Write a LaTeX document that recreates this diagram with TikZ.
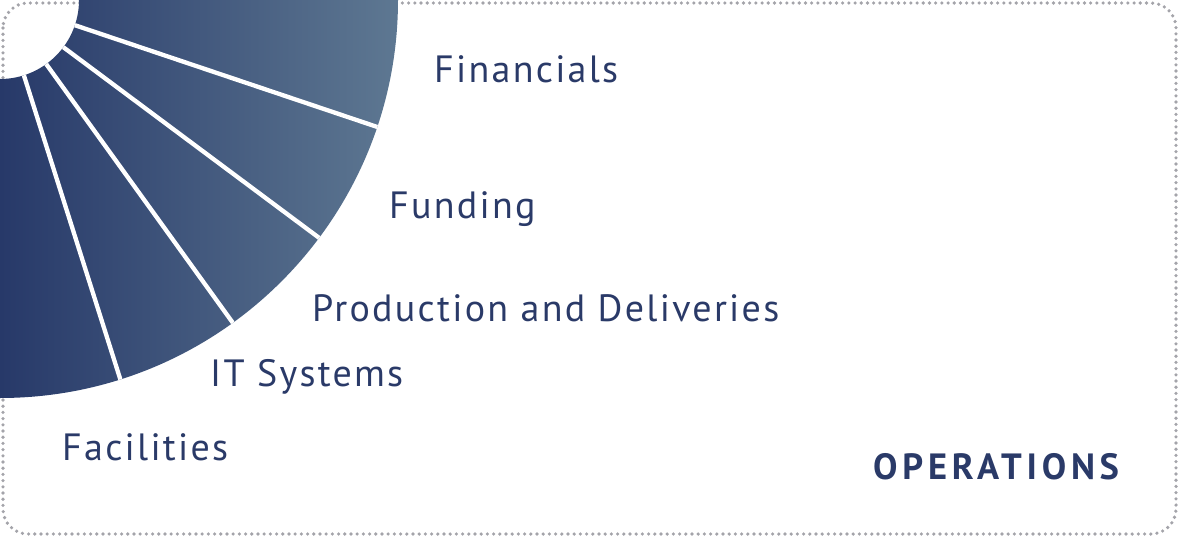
\documentclass[tikz,border=0pt]{standalone}
\usepackage{fontspec}
\setmainfont[LetterSpace=6]{PT Sans}
\newfontfamily\opsfont[LetterSpace=13]{PT Sans}
\definecolor{navy}{HTML}{2A3A68}
\definecolor{fandark}{HTML}{273969}
\definecolor{fanlight}{HTML}{5E7892}
\definecolor{dotgray}{HTML}{A4A4AA}
\tikzset{
  lbl/.style={anchor=base west, inner sep=0pt, text=navy, font=\fontsize{38}{40}\selectfont},
  oplbl/.style={anchor=base west, inner sep=0pt, text=navy, font=\opsfont\fontsize{36.5}{40}\selectfont\bfseries},
  sep/.style={white, line width=4.3pt},
  frame/.style={dotgray, line width=3.6pt, line cap=round, dash pattern=on 0pt off 6.2pt, rounded corners=25pt}
}
\begin{document}
\begin{tikzpicture}[x=1pt,y=-1pt]
\useasboundingbox (0,0) rectangle (1180,538);
\draw[frame] (3,3) rectangle (1176,534);
\begin{scope}
  \clip (79,0) arc[start angle=0, end angle=90, radius=79] -- (0,398) arc[start angle=90, end angle=0, radius=398] -- cycle;
  \shade[left color=fandark, right color=fanlight] (0,0) rectangle (400,400);
  \foreach \a in {18.6,36.7,54.2,72.4} {
    \draw[sep] (0,0) -- ({410*cos(\a)},{410*sin(\a)});
  }
\end{scope}
\node[lbl] (fin) at (434,82.7) {Financials};
\node[lbl] (fund) at (389,218.3) {Funding};
\node[lbl] (prod) at (312,321.7) {Production and Deliveries};
\node[lbl] (it) at (210,386.7) {IT Systems};
\node[lbl] (fac) at (62,460) {Facilities};
\node[oplbl] (ops) at (873,479.3) {OPERATIONS};
\end{tikzpicture}
\end{document}
